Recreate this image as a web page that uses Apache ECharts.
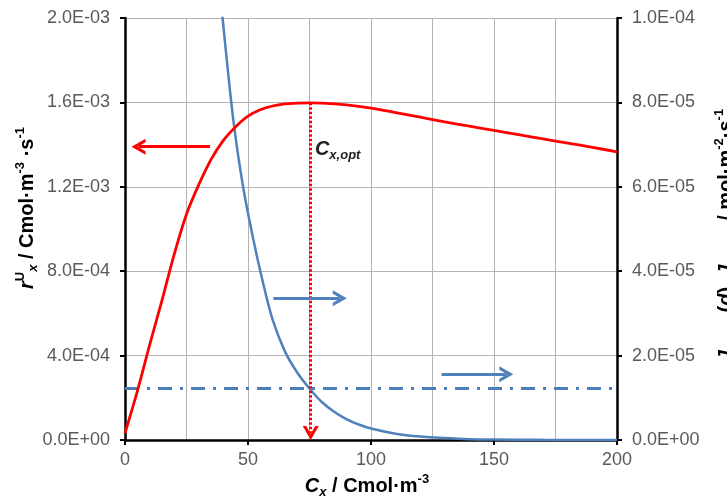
<!DOCTYPE html>
<html>
<head>
<meta charset="utf-8">
<script src="https://cdn.jsdelivr.net/npm/echarts@6.0.0/dist/echarts.min.js"></script>
<style>
  html, body { margin: 0; padding: 0; background: #fff; }
  #myChart { width: 727px; height: 502px; }
</style>
</head>
<body>
<div id="myChart"></div>
<script>
// r_x curve (left axis)
var redX = [0, 5, 10, 15, 20, 25, 30, 35, 40, 45, 50, 55, 60, 65, 70, 75, 80, 90, 100, 110, 120, 130, 140, 150, 160, 170, 180, 190, 200];
var redY = [3.2e-5, 2.3e-4, 4.5e-4, 6.6e-4, 8.8e-4, 1.07e-3, 1.21e-3, 1.33e-3, 1.42e-3, 1.485e-3, 1.535e-3, 1.565e-3, 1.583e-3, 1.593e-3, 1.597e-3, 1.598e-3, 1.597e-3, 1.588e-3, 1.573e-3, 1.552e-3, 1.53e-3, 1.508e-3, 1.487e-3, 1.467e-3, 1.447e-3, 1.427e-3, 1.407e-3, 1.387e-3, 1.366e-3];

// J curve (right axis)
var blueX = [38, 40, 44, 48, 52, 56, 60, 65, 70, 75, 80, 85, 90, 95, 100, 110, 120, 130, 140, 150, 170, 200];
var blueY = [1.1e-4, 9.8e-5, 7.6e-5, 6.0e-5, 4.8e-5, 3.75e-5, 2.85e-5, 2.1e-5, 1.6e-5, 1.22e-5, 9.0e-6, 6.7e-6, 4.96e-6, 3.67e-6, 2.72e-6, 1.5e-6, 0.82e-6, 0.45e-6, 0.2e-6, 0.12e-6, 0.04e-6, 0];

// horizontal J_st,min level (right axis)
var levelX = [0, 200];
var levelY = [1.22e-5, 1.22e-5];

// C_x,opt marker
var optX = 75.5;
var optTop = 1.598e-3;
var optBottom = 3.3e-5;
var optLabel = [77, 1.375e-3];

// annotation arrows [x start, x end (head centre), y]
var redArrow = [34.6, 5.5, 1.39e-3];
var blueArrow1 = [60.3, 87.3, 3.36e-5];
var blueArrow2 = [128.7, 155.0, 1.56e-5];

function zip(xs, ys) {
  var out = [];
  for (var i = 0; i < xs.length; i++) out.push([xs[i], ys[i]]);
  return out;
}

// 2.0E-03 style labels
function fmtE(v) {
  if (v === 0) return "0.0E+00";
  var s = v.toExponential(1).toUpperCase();
  var parts = s.split("E");
  var exp = parseInt(parts[1], 10);
  var sign = exp < 0 ? "-" : "+";
  var e = Math.abs(exp);
  return parts[0] + "E" + sign + (e < 10 ? "0" + e : e);
}

var chevron = "path://M0,10 L5,0 L10,10 L7.8,10 L5,4.4 L2.2,10 Z";
var FONT = "Liberation Sans";
var RED = "#ff0000";
var BLUE = "#4f81bd";

function arrowLine(a, color) {
  return [
    { coord: [a[0], a[2]], lineStyle: { color: color, width: 3, type: "solid" } },
    { coord: [a[1], a[2]], lineStyle: { color: color, width: 3, type: "solid" } }
  ];
}

// rich styles for titles
var titleRich = {
  i: { fontFamily: FONT, fontSize: 20, fontWeight: "bold", fontStyle: "italic", lineHeight: 26 },
  sb: { fontFamily: FONT, fontSize: 13, fontWeight: "bold", fontStyle: "italic", verticalAlign: "bottom", lineHeight: 18 },
  sbn: { fontFamily: FONT, fontSize: 13, fontWeight: "bold", verticalAlign: "bottom", lineHeight: 18 },
  sp: { fontFamily: FONT, fontSize: 13, fontWeight: "bold", verticalAlign: "top", lineHeight: 18 }
};

var myChart = echarts.init(document.getElementById("myChart"), null, { renderer: "canvas" });

var axisLabel = { color: "#595959", fontSize: 18, fontFamily: FONT };

myChart.setOption({
  animation: false,
  grid: {
    left: 125,
    right: 110,
    top: 18,
    bottom: 62,
    outerBoundsMode: "none",
    show: false
  },
  xAxis: {
    type: "value",
    min: 0,
    max: 200,
    interval: 50,
    axisLine: { onZero: false, lineStyle: { color: "#000", width: 2.5 } },
    axisTick: { show: true, length: 5, lineStyle: { color: "#000", width: 2 } },
    axisLabel: Object.assign({ margin: 11 }, axisLabel),
    splitLine: { show: true, lineStyle: { color: "#b3b3b3", width: 1 } },
    minorTick: { show: false, splitNumber: 2 },
    minorSplitLine: { show: true, lineStyle: { color: "#b3b3b3", width: 1 } }
  },
  yAxis: [
    {
      type: "value",
      min: 0,
      max: 2e-3,
      interval: 4e-4,
      axisLine: { show: true, onZero: false, lineStyle: { color: "#000", width: 2.5 } },
      axisTick: { show: true, length: 5, lineStyle: { color: "#000", width: 2 } },
      axisLabel: Object.assign({ margin: 15, formatter: fmtE }, axisLabel),
      splitLine: { show: true, lineStyle: { color: "#b3b3b3", width: 1 } }
    },
    {
      type: "value",
      position: "right",
      min: 0,
      max: 1e-4,
      interval: 2e-5,
      axisLine: { show: true, onZero: false, lineStyle: { color: "#000", width: 2.5 } },
      axisTick: { show: true, length: 5, lineStyle: { color: "#000", width: 2 } },
      axisLabel: Object.assign({ margin: 15, formatter: fmtE }, axisLabel),
      splitLine: { show: false }
    }
  ],
  graphic: [
    {
      type: "text",
      x: 367,
      y: 486,
      style: {
        text: "{i|C}{sb|x} / Cmol·m{sp|-3}",
        align: "center",
        verticalAlign: "middle",
        fontFamily: FONT,
        fontSize: 20,
        fontWeight: "bold",
        fill: "#000",
        rich: titleRich
      }
    },
    {
      type: "text",
      x: 27,
      y: 208,
      rotation: Math.PI / 2,
      style: {
        text: "{i|r}{sp|U}{sb|x} / Cmol·m{sp|-3} ·s{sp|-1}",
        align: "center",
        verticalAlign: "middle",
        fontFamily: FONT,
        fontSize: 20,
        fontWeight: "bold",
        fill: "#000",
        rich: titleRich
      }
    },
    {
      type: "text",
      x: 726,
      y: 235,
      rotation: Math.PI / 2,
      style: {
        text: "{i|J}{sbn|st,exp}({i|d}), {i|J}{sbn|st,min} / mol·m{sp|-2}·s{sp|-1}",
        align: "center",
        verticalAlign: "middle",
        fontFamily: FONT,
        fontSize: 20,
        fontWeight: "bold",
        fill: "#000",
        rich: titleRich
      }
    }
  ],
  series: [
    {
      name: "rx",
      type: "line",
      yAxisIndex: 0,
      data: zip(redX, redY),
      smooth: 0.3,
      symbol: "none",
      z: 4,
      lineStyle: { color: RED, width: 2.8 },
      markLine: {
        silent: true,
        animation: false,
        label: { show: false },
        symbol: ["none", chevron],
        symbolSize: [16, 14],
        data: [
          [
            { coord: [optX, optTop], lineStyle: { color: RED, width: 3, type: [2.5, 2] } },
            { coord: [optX, optBottom], lineStyle: { color: RED, width: 3, type: [2.5, 2] } }
          ],
          arrowLine(redArrow, RED)
        ]
      },
      markPoint: {
        silent: true,
        symbol: "circle",
        symbolSize: 1,
        itemStyle: { color: "rgba(0,0,0,0)" },
        label: {
          show: true,
          position: "right",
          distance: 0,
          formatter: "{c|C}{s|x,opt}",
          rich: {
            c: { fontFamily: FONT, fontSize: 20, fontWeight: "bold", fontStyle: "italic", color: "#222", lineHeight: 24 },
            s: { fontFamily: FONT, fontSize: 13, fontWeight: "bold", fontStyle: "italic", color: "#222", verticalAlign: "bottom", lineHeight: 16 }
          }
        },
        data: [{ coord: optLabel }]
      }
    },
    {
      name: "J",
      type: "line",
      yAxisIndex: 1,
      data: zip(blueX, blueY),
      smooth: 0.3,
      symbol: "none",
      clip: true,
      z: 3,
      lineStyle: { color: BLUE, width: 2.5 },
      markLine: {
        silent: true,
        animation: false,
        label: { show: false },
        symbol: ["none", chevron],
        symbolSize: [16, 14],
        data: [arrowLine(blueArrow1, BLUE), arrowLine(blueArrow2, BLUE)]
      }
    },
    {
      name: "Jmin",
      type: "line",
      yAxisIndex: 1,
      data: zip(levelX, levelY),
      symbol: "none",
      z: 2,
      lineStyle: { color: "#4a7ebb", width: 3, type: [14, 8, 3, 8] }
    }
  ]
});
</script>
</body>
</html>
